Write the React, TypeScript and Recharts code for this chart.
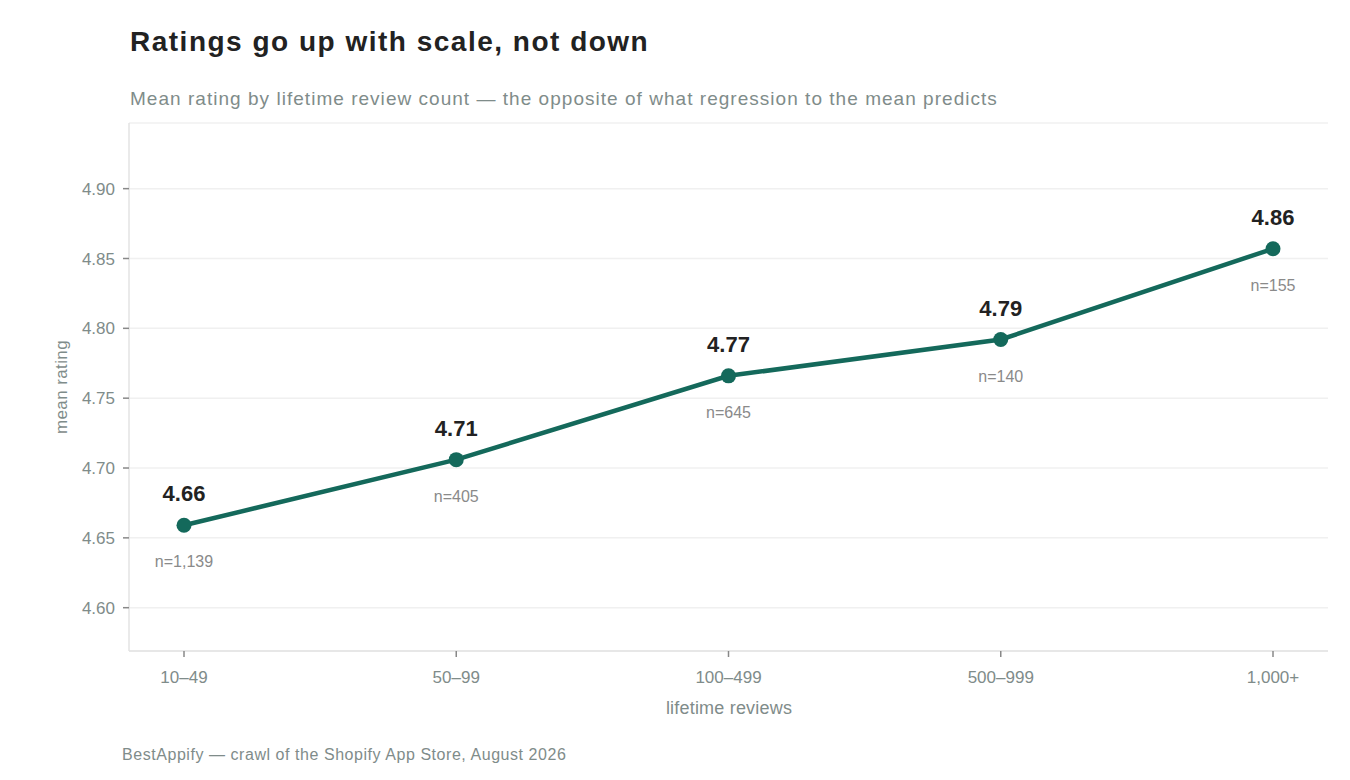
import React from "react";
import {
  LineChart,
  Line,
  XAxis,
  YAxis,
  CartesianGrid,
  LabelList,
} from "recharts";

const categories = ["10–49", "50–99", "100–499", "500–999", "1,000+"];
const meanRatings = [4.659, 4.706, 4.766, 4.792, 4.857];
const ratingLabels = ["4.66", "4.71", "4.77", "4.79", "4.86"];
const sampleSizes = ["n=1,139", "n=405", "n=645", "n=140", "n=155"];
const yTicks = [4.6, 4.65, 4.7, 4.75, 4.8, 4.85, 4.9];

const data = categories.map((c, i) => ({
  bucket: c,
  rating: meanRatings[i],
  label: ratingLabels[i],
  n: sampleSizes[i],
}));

const FONT = '"Liberation Sans", Arial, Helvetica, sans-serif';
const GREEN = "#14695b";
const GRAY = "#7f8c8a";

const ValueLabel = (props: any) => {
  const { x, y, index } = props;
  return (
    <g>
      <text
        x={x}
        y={y - 24}
        textAnchor="middle"
        fontFamily={FONT}
        fontWeight={700}
        fontSize={22}
        fill="#222222"
      >
        {ratingLabels[index]}
      </text>
      <text
        x={x}
        y={y + 42}
        textAnchor="middle"
        fontFamily={FONT}
        fontSize={16}
        fill="#8a8a8a"
      >
        {sampleSizes[index]}
      </text>
    </g>
  );
};

export default function App() {
  return (
    <div
      style={{
        position: "absolute",
        left: 0,
        top: 0,
        width: 1350,
        height: 780,
        background: "#ffffff",
        fontFamily: FONT,
      }}
    >
      <div
        style={{
          position: "absolute",
          left: 130,
          top: 24,
          fontSize: 28,
          fontWeight: 700,
          color: "#222222",
          whiteSpace: "nowrap",
          lineHeight: "36px",
          letterSpacing: 1.5,
        }}
      >
        Ratings go up with scale, not down
      </div>
      <div
        style={{
          position: "absolute",
          left: 130,
          top: 86,
          fontSize: 19,
          color: GRAY,
          whiteSpace: "nowrap",
          lineHeight: "26px",
          letterSpacing: 1.03,
        }}
      >
        Mean rating by lifetime review count — the opposite of what regression to the mean predicts
      </div>
      <LineChart
        width={1350}
        height={780}
        data={data}
        margin={{ top: 123, right: 22, bottom: 89, left: 0 }}
      >
        <CartesianGrid vertical={false} stroke="#f0f0f0" strokeWidth={1.5} />
        <XAxis
          dataKey="bucket"
          padding={{ left: 55, right: 55 }}
          height={40}
          axisLine={{ stroke: "#e3e3e3", strokeWidth: 1.5 }}
          tickLine={{ stroke: "#888888", strokeWidth: 1.5 }}
          tickSize={6}
          tickMargin={14}
          tick={{ fill: GRAY, fontSize: 17, fontFamily: FONT }}
        />
        <YAxis
          width={129}
          domain={[4.569, 4.947]}
          ticks={yTicks}
          tickFormatter={(v: number) => v.toFixed(2)}
          axisLine={{ stroke: "#e3e3e3", strokeWidth: 1.5 }}
          tickLine={{ stroke: "#888888", strokeWidth: 1.5 }}
          tickSize={6}
          tickMargin={8}
          tick={{ fill: GRAY, fontSize: 17, fontFamily: FONT }}
        />
        <Line
          type="linear"
          dataKey="rating"
          stroke={GREEN}
          strokeWidth={4.5}
          dot={{ r: 7.5, fill: GREEN, stroke: GREEN, strokeWidth: 0 }}
          activeDot={false}
          isAnimationActive={false}
        >
          <LabelList dataKey="rating" content={ValueLabel} />
        </Line>
      </LineChart>
      <div
        style={{
          position: "absolute",
          left: 0,
          top: 387,
          width: 124,
          height: 0,
        }}
      >
        <div
          style={{
            position: "absolute",
            left: 62,
            top: 0,
            transform: "translate(-50%, -50%) rotate(-90deg)",
            fontSize: 17,
            color: GRAY,
            whiteSpace: "nowrap",
            letterSpacing: 0.4,
          }}
        >
          mean rating
        </div>
      </div>
      <div
        style={{
          position: "absolute",
          left: 729,
          top: 708,
          transform: "translate(-50%, -50%)",
          fontSize: 18,
          color: GRAY,
          whiteSpace: "nowrap",
          letterSpacing: 0.2,
        }}
      >
        lifetime reviews
      </div>
      <div
        style={{
          position: "absolute",
          left: 122,
          top: 744,
          fontSize: 16,
          color: GRAY,
          whiteSpace: "nowrap",
          lineHeight: "22px",
          letterSpacing: 0.55,
        }}
      >
        BestAppify — crawl of the Shopify App Store, August 2026
      </div>
    </div>
  );
}
